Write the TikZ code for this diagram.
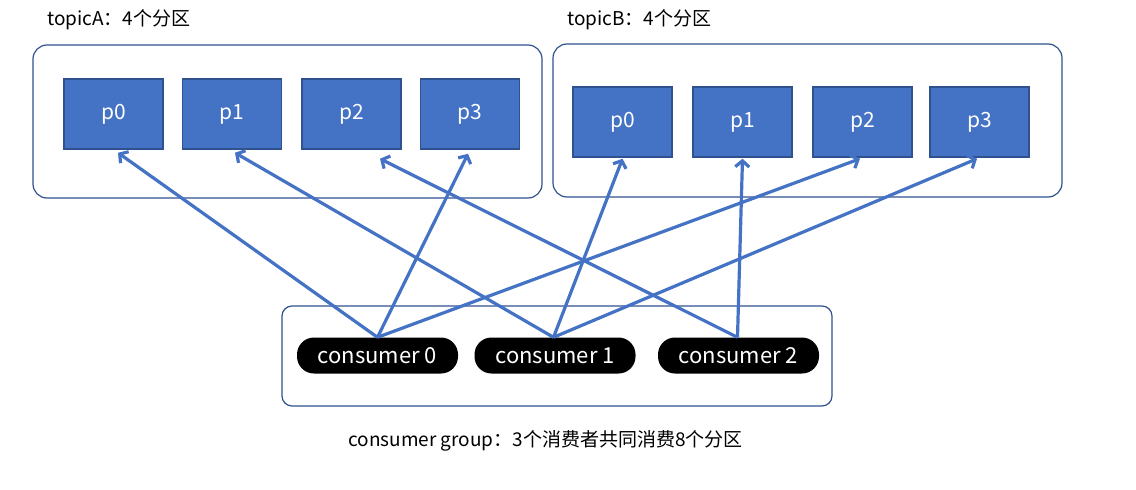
\documentclass[tikz,border=0pt]{standalone}
\usepackage{fontspec}
\setmainfont{Noto Sans CJK SC}
\usetikzlibrary{arrows.meta}
\definecolor{pblue}{HTML}{4472C4}
\definecolor{pdark}{HTML}{2F528F}
\tikzset{
  groupbox/.style={draw=pdark, line width=1.2pt, rounded corners=14pt, inner sep=0pt},
  partbox/.style={draw=pdark, fill=pblue, line width=1.5pt, minimum width=99pt, minimum height=70pt, inner sep=0pt, text=white, font=\fontsize{21}{25}\selectfont},
  consbox/.style={fill=black, rounded corners=17pt, minimum width=161pt, minimum height=36pt, inner sep=0pt, text=white, font=\fontsize{22}{26}\selectfont},
  conn/.style={draw=pblue, line width=3.2pt, -{Straight Barb[length=6pt,width=14pt]}},
  lbl/.style={font=\fontsize{19}{23}\selectfont, inner sep=0pt}
}
\begin{document}
\begin{tikzpicture}[x=1pt,y=-1pt]
\useasboundingbox (0,0) rectangle (1136,490);
% group boxes
\node[groupbox, minimum width=509pt, minimum height=153pt] (boxA) at (287.5,121.5) {};
\node[groupbox, minimum width=509pt, minimum height=153pt] (boxB) at (807.5,120.5) {};
\node[groupbox, rounded corners=10pt, minimum width=550pt, minimum height=100pt] (boxC) at (557,356) {};
% labels
\node[lbl, anchor=west] (labA) at (47,20) {topicA：4个分区};
\node[lbl, anchor=west] (labB) at (567,20) {topicB：4个分区};
\node[lbl] (labC) at (545.5,441) {consumer group：3个消费者共同消费8个分区};
% partitions
\node[partbox] (Ap0) at (113.5,114) {p0};
\node[partbox] (Ap1) at (232,114) {p1};
\node[partbox] (Ap2) at (351.5,114) {p2};
\node[partbox] (Ap3) at (470,114) {p3};
\node[partbox] (Bp0) at (622.5,122) {p0};
\node[partbox] (Bp1) at (742.5,122) {p1};
\node[partbox] (Bp2) at (862.5,122) {p2};
\node[partbox] (Bp3) at (979.5,122) {p3};
% consumers
\node[consbox] (c0) at (377.5,355.5) {consumer 0};
\node[consbox] (c1) at (555,355.5) {consumer 1};
\node[consbox] (c2) at (738.5,355.5) {consumer 2};
% connectors
\draw[conn] (c0.north) -- ([xshift=4.5pt,yshift=-3pt]Ap0.south);
\draw[conn] (c0.north) -- ([xshift=-2pt,yshift=-4pt]Ap3.south);
\draw[conn] (c0.north) -- ([xshift=-2.5pt,yshift=-1pt]Bp2.south);
\draw[conn] ([xshift=-1.5pt]c1.north) -- ([xshift=3pt,yshift=-3pt]Ap1.south);
\draw[conn] ([xshift=-1.5pt]c1.north) -- ([yshift=-1pt]Bp0.south);
\draw[conn] ([xshift=-1.5pt]c1.north) -- ([xshift=-2.5pt,yshift=-1pt]Bp3.south);
\draw[conn] ([xshift=-1pt]c2.north) -- ([xshift=28.5pt,yshift=-9pt]Ap2.south);
\draw[conn] ([xshift=-1pt]c2.north) -- ([yshift=-1pt]Bp1.south);
\end{tikzpicture}
\end{document}
